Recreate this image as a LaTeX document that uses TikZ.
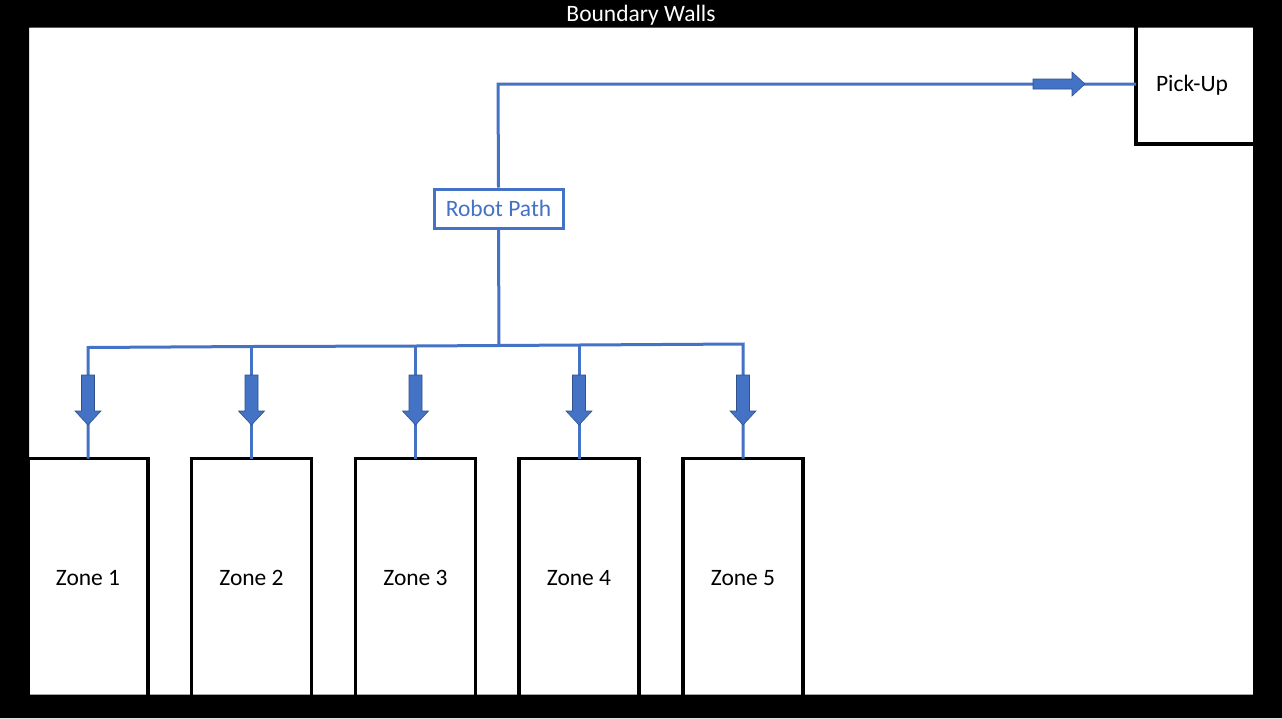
\documentclass[tikz,border=0pt]{standalone}
\usepackage{fontspec}
\setmainfont{Carlito}
\definecolor{pathblue}{RGB}{68,114,196}
\definecolor{arrowedge}{RGB}{47,82,143}
\begin{document}
\begin{tikzpicture}[x=1pt,y=-1pt,
  zonebox/.style={draw=black,line width=3.5pt,fill=white},
  pathline/.style={draw=pathblue,line width=3pt},
  lbl/.style={font=\fontsize{23.5}{26}\selectfont,text=black},
  blockarrow/.style={fill=pathblue,draw=arrowedge,line width=0.6pt}]
\useasboundingbox (0,0) rectangle (1282,718);
\fill[white] (0,0) rectangle (1282,718);
% zones
\foreach \i/\cx in {1/88,2/251.5,3/415.5,4/579,5/743}{
  \draw[zonebox] (\cx-60,458.5) rectangle (\cx+60,705);
  \node[lbl] (zone\i) at (\cx,578) {Zone \i};
  \coordinate (ztop\i) at (\cx,458.5);
}
% pick-up
\draw[zonebox] (1136,20) rectangle (1265,144);
\node[lbl] (pickup) at (1192,85) {Pick-Up};
\coordinate (pickin) at (1136,84);
% robot path box
\node[draw=pathblue,line width=3pt,fill=white,minimum width=129pt,minimum height=39pt,
  inner sep=0pt,text=pathblue,font=\fontsize{23.5}{26}\selectfont] (robot) at (498.5,208.5) {Robot Path};
\coordinate (corner) at (498,84);
\coordinate (junction) at (499,345.5);
\foreach \i/\cx/\y in {1/88/347.5,2/251.5/346.5,3/415.5/346,4/579/345,5/743/344}{
  \coordinate (b\i) at (\cx,\y);
}
% path lines
\draw[pathline,line join=miter] (robot.north) -- (corner) -- (pickin);
\draw[pathline] (robot.south) -- (junction);
\draw[pathline,line join=miter] (ztop1) -- (b1) -- (b2) -- (b3) -- (b4) -- (b5) -- (ztop5);
\foreach \i in {2,3,4}{ \draw[pathline] (b\i) -- (ztop\i); }
% down block arrows
\foreach \cx in {88,251.5,415.5,579,743}{
  \draw[blockarrow] (\cx-6.5,375) -- (\cx+6.5,375) -- (\cx+6.5,411) -- (\cx+13,411)
    -- (\cx,425) -- (\cx-13,411) -- (\cx-6.5,411) -- cycle;
}
% right block arrow
\draw[blockarrow] (1033,79) -- (1072,79) -- (1072,72) -- (1085,84) -- (1072,96)
  -- (1072,89) -- (1033,89) -- cycle;
% boundary walls
\fill[black,even odd rule] (0,0) rectangle (1282,718) (29,27.5) rectangle (1253,694.5);
\node[text=white,font=\fontsize{23.5}{26}\selectfont] (walls) at (641,15) {Boundary Walls};
\end{tikzpicture}
\end{document}
